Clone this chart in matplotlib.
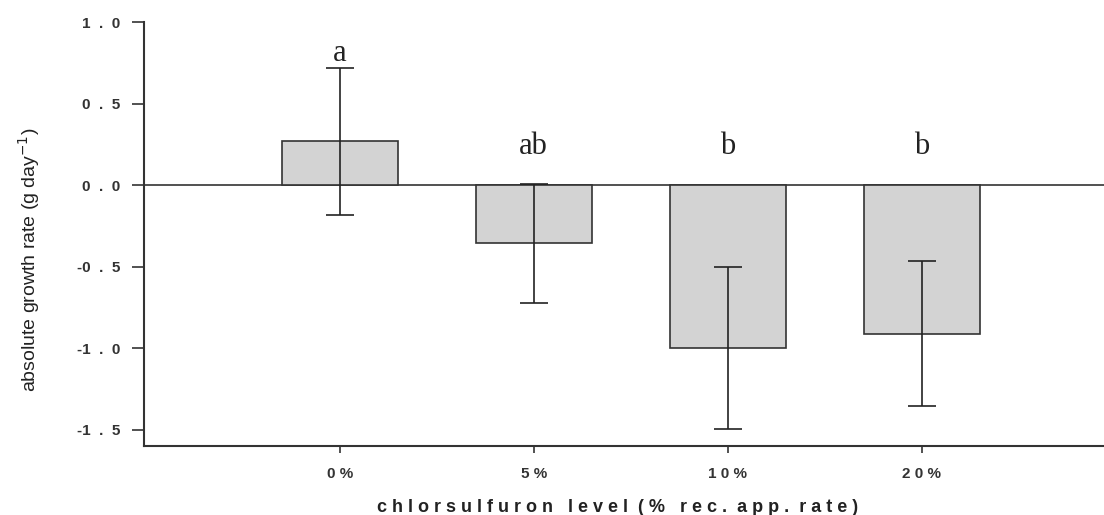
import matplotlib.pyplot as plt
import numpy as np

levels = ['0 %', '5 %', '1 0 %', '2 0 %']
growth = [0.27, -0.355, -1.0, -0.91]
errors = [0.45, 0.365, 0.495, 0.445]
letters = ['a', 'ab', 'b', 'b']
letter_y = [0.81, 0.24, 0.24, 0.24]

yticks = [-1.5, -1.0, -0.5, 0.0, 0.5, 1.0]
ytick_labels = ['-1  .  5', '-1  .  0', '-0  .  5', '0  .  0', '0  .  5', '1  .  0']

x = np.arange(len(levels))

fig = plt.figure(figsize=(11.04, 5.15), dpi=100)
ax = fig.add_axes([0.1304, 0.134, 0.8696, 0.823])

ax.bar(x, growth, 0.6, color='#d3d3d3', edgecolor='#333333', linewidth=1.2, zorder=2)
ax.errorbar(x, growth, yerr=errors, fmt='none', ecolor='#222222', elinewidth=1.2,
            capsize=10, capthick=1.2, zorder=3)
ax.axhline(0, color='#333333', linewidth=1.2, zorder=1)

for xi, lab, ly in zip(x, letters, letter_y):
    ax.text(xi, ly, lab, ha='center', va='center', fontsize=22,
            family='Liberation Serif', color='#222222')

ax.set_xlim(-1.01, 3.94)
ax.set_ylim(-1.6, 1.0)
ax.set_xticks(x)
ax.set_xticklabels(levels, fontsize=11, family='Liberation Sans', fontweight='bold', color='#333333')
ax.set_yticks(yticks)
ax.set_yticklabels(ytick_labels, fontsize=11, family='Liberation Sans', fontweight='bold', color='#333333')
ax.tick_params(axis='y', length=9, width=1.2, pad=8, color='#333333')
ax.tick_params(axis='x', length=5, width=1.2, pad=10, color='#333333')

for s in ['top', 'right']:
    ax.spines[s].set_visible(False)
for s in ['left', 'bottom']:
    ax.spines[s].set_linewidth(1.5)
    ax.spines[s].set_color('#333333')

ax.set_xlabel('c h l o r s u l f u r o n   l e v e l  ( %   r e c .  a p p .  r a t e )',
              fontsize=13, family='Liberation Sans', fontweight='bold', color='#222222')
ax.xaxis.set_label_coords(0.493, -0.125)
ax.set_ylabel('absolute growth rate (g day$^{-1}$)', fontsize=14,
              family='Liberation Sans', color='#222222')
ax.yaxis.set_label_coords(-0.106, 0.44)

fig.savefig('out.png', dpi=100)
